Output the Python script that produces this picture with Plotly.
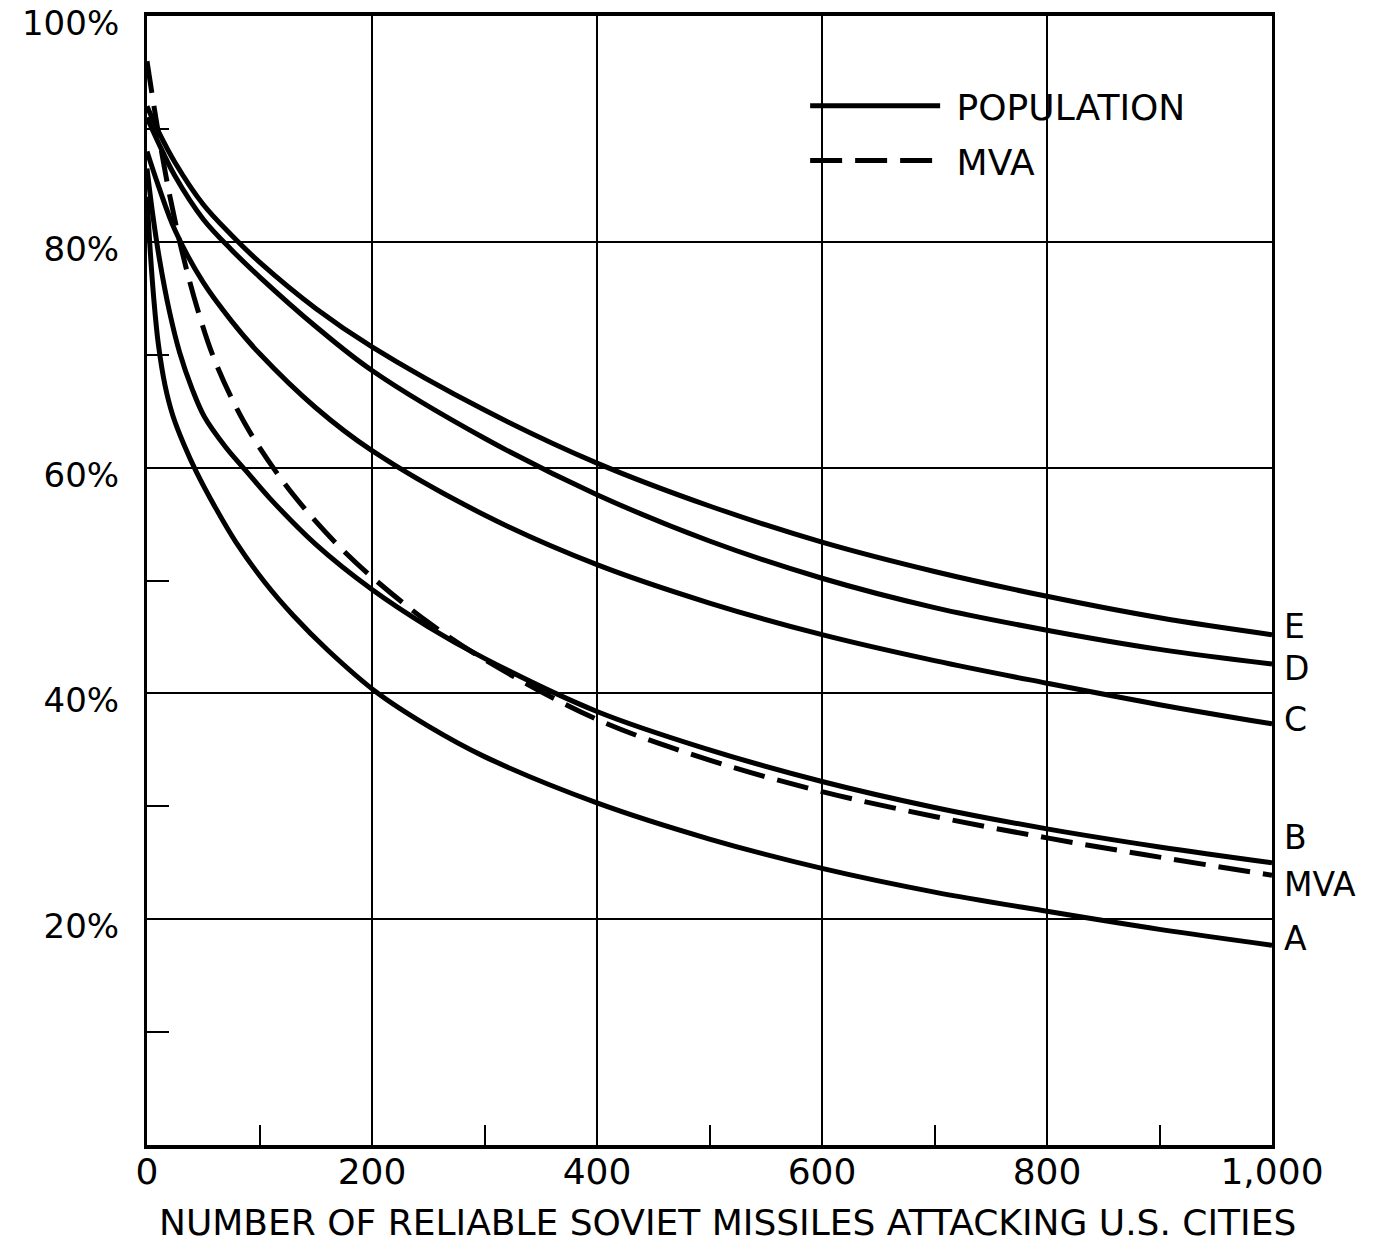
import plotly.graph_objects as go

# ---------------- data ----------------
x_E = [0, 10, 25, 50, 75, 100, 150, 200, 300, 400, 500, 600, 700, 800, 900, 1000]
pop_E = [92.0, 89.8, 87.0, 83.3, 80.6, 78.2, 74.1, 70.7, 65.1, 60.4, 56.6, 53.4, 50.8, 48.6, 46.7, 45.2]

x_D = [0, 10, 25, 50, 75, 100, 150, 200, 300, 400, 500, 600, 700, 800, 900, 1000]
pop_D = [91.0, 88.8, 85.8, 82.0, 79.3, 76.9, 72.5, 68.6, 62.6, 57.6, 53.5, 50.2, 47.6, 45.6, 43.9, 42.6]

x_C = [0, 10, 25, 50, 75, 100, 150, 200, 300, 400, 500, 600, 700, 800, 900, 1000]
pop_C = [88.0, 85.0, 81.0, 76.4, 73.0, 70.1, 65.3, 61.5, 55.8, 51.4, 48.0, 45.2, 42.9, 40.9, 39.0, 37.3]

x_B = [0, 5, 11, 20, 29, 40, 51, 70, 89, 109, 150, 200, 250, 300, 400, 500, 600, 700, 800, 900, 1000]
pop_B = [86.5, 82.5, 78.5, 73.8, 70.2, 67.0, 64.5, 61.8, 59.6, 57.3, 53.2, 49.2, 45.9, 43.1, 38.4, 35.0, 32.2, 29.9, 28.0, 26.4, 25.0]

x_A = [0, 3, 6, 10, 16, 23, 33, 44, 60, 79, 105, 130, 161, 204, 250, 300, 400, 500, 600, 700, 800, 900, 1000]
pop_A = [84.0, 79.0, 75.0, 71.0, 67.3, 64.6, 62.0, 59.6, 56.6, 53.4, 49.8, 46.9, 43.8, 40.1, 37.1, 34.4, 30.3, 27.1, 24.5, 22.4, 20.7, 19.1, 17.7]

x_MVA = [0, 7, 14, 20, 31, 45, 61, 87, 117, 139, 170, 200, 250, 300, 400, 500, 600, 700, 800, 900, 1000]
mva = [96.0, 91.5, 87.4, 84.2, 79.2, 74.0, 69.3, 63.9, 59.3, 56.5, 53.1, 50.3, 46.3, 43.0, 37.7, 34.1, 31.3, 29.1, 27.2, 25.5, 23.9]

curve_labels = ["E", "D", "C", "B", "MVA", "A"]
x_tickvals = [0, 200, 400, 600, 800, 1000]
x_ticktext = ["0", "200", "400", "600", "800", "1,000"]
y_tickvals = [20, 40, 60, 80, 100]
y_ticktext = ["20%", "40%", "60%", "80%", "100%"]
x_minor = [100, 300, 500, 700, 900]
y_minor = [10, 30, 50, 70, 90]
legend_names = ["POPULATION", "MVA"]
x_title = "NUMBER OF RELIABLE SOVIET MISSILES ATTACKING U.S. CITIES"

FONT = "DejaVu Sans"
INK = "black"

series = [
    (x_E, pop_E, curve_labels[0]),
    (x_D, pop_D, curve_labels[1]),
    (x_C, pop_C, curve_labels[2]),
    (x_B, pop_B, curve_labels[3]),
    (x_MVA, mva, curve_labels[4]),
    (x_A, pop_A, curve_labels[5]),
]

fig = go.Figure()
for xs, ys, lab in series:
    is_mva = lab == "MVA"
    fig.add_trace(go.Scatter(
        x=xs, y=ys, mode="lines",
        line=dict(color=INK, width=5, shape="spline", smoothing=1.0,
                  dash="32px,13px" if is_mva else "solid"),
        name=" " + (legend_names[1] if is_mva else legend_names[0]),
        legendgroup="mva" if is_mva else "pop",
        legendrank=2 if is_mva else 1,
        showlegend=(lab in ("E", "MVA")),
        hoverinfo="skip",
    ))

# right-hand curve labels, attached to each curve's last point
label_yshift = {"E": 8, "D": -4, "C": 4, "B": 25, "MVA": -9, "A": 7}
for xs, ys, lab in series:
    fig.add_annotation(
        x=xs[-1], y=ys[-1], xref="x", yref="y", text=lab, showarrow=False,
        xanchor="left", yanchor="middle", xshift=10, yshift=label_yshift[lab],
        font=dict(family=FONT, size=33, color=INK),
    )

fig.add_annotation(
    x=0.5, y=0, xref="paper", yref="paper", text=x_title, showarrow=False,
    xanchor="center", yanchor="top", xshift=18, yshift=-55,
    font=dict(family=FONT, size=36, color=INK),
)

fig.update_layout(
    width=1379, height=1245,
    margin=dict(l=147, r=107, t=16, b=100, autoexpand=False),
    paper_bgcolor="white", plot_bgcolor="white",
    font=dict(family=FONT, color=INK),
    showlegend=True,
    legend=dict(
        x=0.585, y=0.947, xanchor="left", yanchor="top",
        font=dict(family=FONT, size=36, color=INK),
        itemwidth=130, tracegroupgap=5, bgcolor="rgba(0,0,0,0)",
    ),
    xaxis=dict(
        range=[0, 1000], tickmode="array", tickvals=x_tickvals, ticktext=x_ticktext,
        showgrid=True, gridcolor=INK, gridwidth=2, zeroline=False,
        showline=True, linecolor=INK, linewidth=4, mirror=True,
        ticks="", ticklabelstandoff=-8, automargin=False,
        tickfont=dict(family=FONT, size=36, color=INK),
        minor=dict(tickmode="array", tickvals=x_minor, ticks="inside", ticklen=20,
                   tickwidth=2, tickcolor=INK, showgrid=False),
    ),
    yaxis=dict(
        range=[0, 100], tickmode="array", tickvals=y_tickvals, ticktext=y_ticktext,
        showgrid=True, gridcolor=INK, gridwidth=2, zeroline=False,
        showline=True, linecolor=INK, linewidth=3, mirror=True,
        ticks="", ticklabelstandoff=18, ticklabelshift=7, ticklabeloverflow="allow",
        automargin=False,
        tickfont=dict(family=FONT, size=34, color=INK),
        minor=dict(tickmode="array", tickvals=y_minor, ticks="inside", ticklen=22,
                   tickwidth=2, tickcolor=INK, showgrid=False),
    ),
)

fig.write_html("out.html")
